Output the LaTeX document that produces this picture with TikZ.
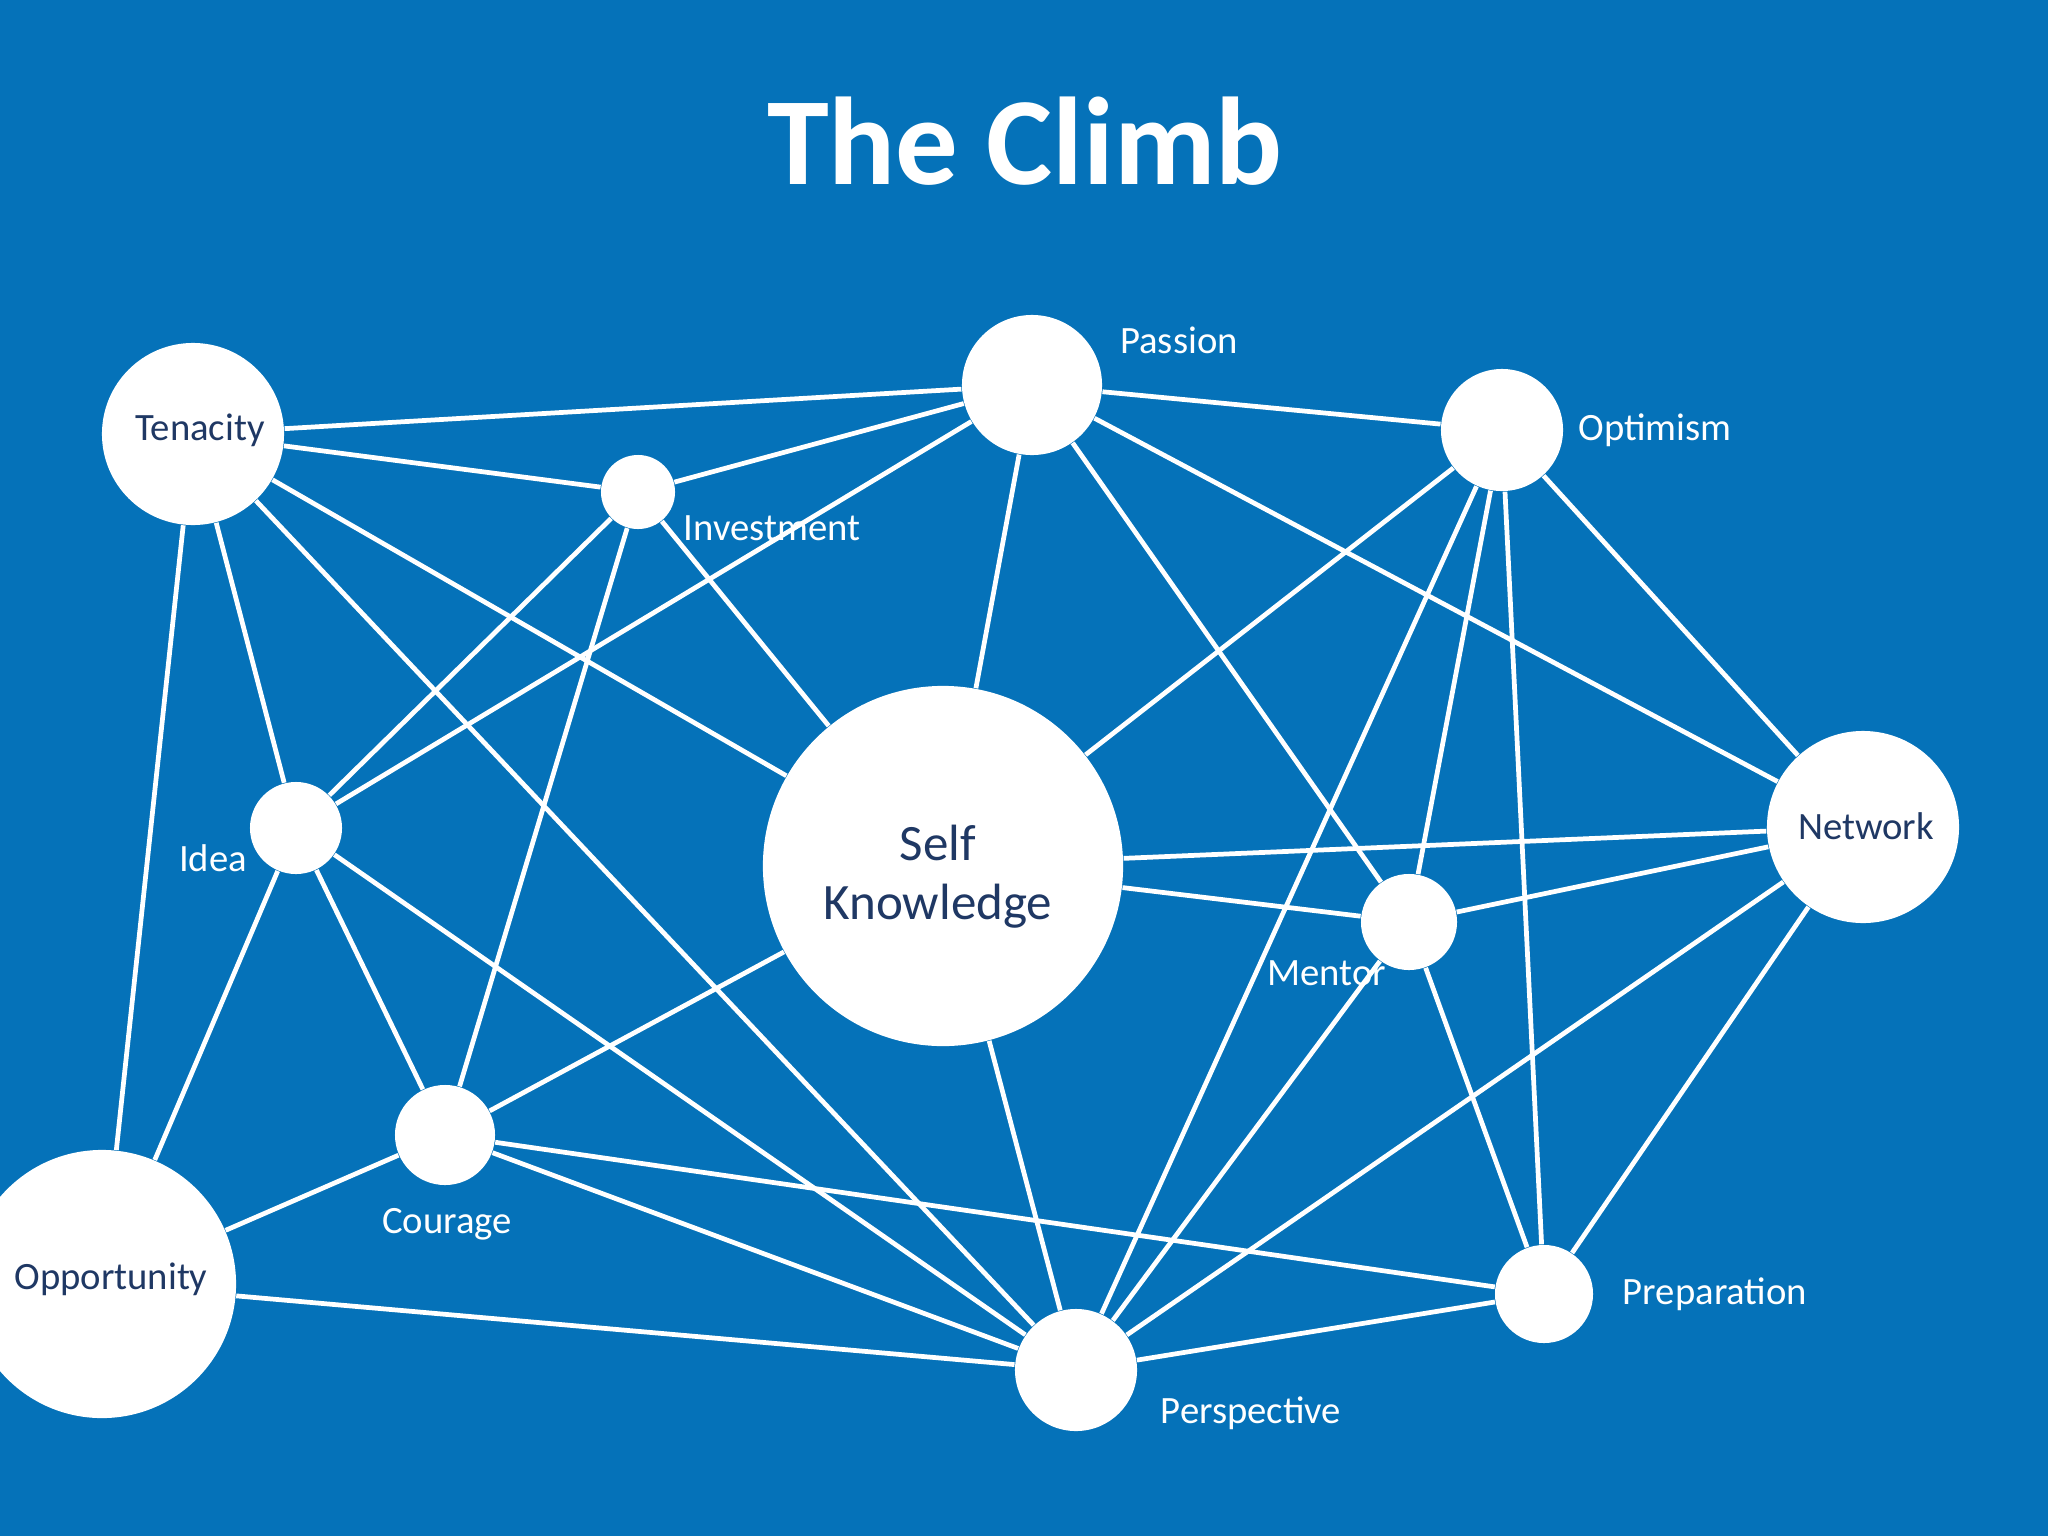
\documentclass[tikz,border=0pt]{standalone}
\usepackage{fontspec}
\setmainfont{Carlito}
\definecolor{bg}{RGB}{5,114,185}
\definecolor{navy}{RGB}{31,56,100}
\begin{document}
\begin{tikzpicture}[x=0.01cm,y=-0.01cm,
  dot/.style={circle,fill=white,inner sep=0pt},
  intext/.style={text=navy,font=\fontsize{11}{13}\selectfont,inner sep=0pt},
  lbl/.style={text=white,font=\fontsize{11}{13}\selectfont,inner sep=0pt},
  link/.style={white,line width=1.35pt}]
\fill[bg] (0,0) rectangle (2048,1536);
\useasboundingbox (0,0) rectangle (2048,1536);
\clip (0,0) rectangle (2048,1536);

\node[text=white,font=\bfseries\fontsize{35.5}{40}\selectfont,inner sep=0pt] (title) at (1025,141) {The Climb};

\node[dot,minimum size=1.82cm] (ten) at (193,434) {};
\node[dot,minimum size=1.40cm] (pas) at (1032,385) {};
\node[dot,minimum size=1.22cm] (opt) at (1502,430) {};
\node[dot,minimum size=0.74cm] (inv) at (638,492) {};
\node[dot,minimum size=0.92cm] (ide) at (296,828) {};
\node[dot,minimum size=3.60cm] (sel) at (943,866) {};
\node[dot,minimum size=1.92cm] (net) at (1863,827) {};
\node[dot,minimum size=0.96cm] (men) at (1409,922) {};
\node[dot,minimum size=1.00cm] (cou) at (445,1135) {};
\node[dot,minimum size=2.68cm] (opp) at (102,1284) {};
\node[dot,minimum size=1.22cm] (per) at (1076,1370) {};
\node[dot,minimum size=0.98cm] (pre) at (1544,1294) {};

\foreach \a/\b in {ten/pas,ten/inv,ten/sel,ten/per,ten/ide,ten/opp,
  pas/inv,pas/ide,pas/sel,pas/men,pas/opt,pas/net,
  opt/sel,opt/per,opt/men,opt/pre,opt/net,
  inv/ide,inv/cou,inv/sel,
  ide/opp,ide/cou,ide/per,
  sel/net,sel/men,sel/cou,sel/per,
  net/men,net/per,net/pre,
  men/per,men/pre,
  cou/opp,cou/pre,cou/per,
  opp/per,per/pre}
  \draw[link] (\a) -- (\b);

\node[intext] (tten) at (200,430) {Tenacity};
\node[intext,align=center,font=\fontsize{14.5}{16.8}\selectfont] (tsel) at (938,877) {Self\\Knowledge};
\node[intext] (tnet) at (1866,826) {Network};
\node[intext] (topp) at (111,1279) {Opportunity};

\node[lbl] (lpas) at (1179,340) {Passion};
\node[lbl] (lopt) at (1655,430) {Optimism};
\node[lbl] (linv) at (772,528) {Investment};
\node[lbl] (lide) at (213,858) {Idea};
\node[lbl] (lmen) at (1327,973) {Mentor};
\node[lbl] (lcou) at (447,1224) {Courage};
\node[lbl] (lper) at (1251,1413) {Perspective};
\node[lbl] (lpre) at (1715,1294) {Preparation};
\end{tikzpicture}
\end{document}
